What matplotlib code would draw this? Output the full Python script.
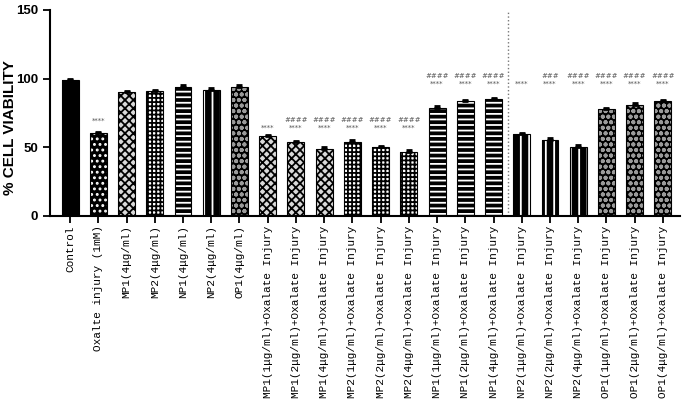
import matplotlib
matplotlib.use("Agg")
import matplotlib.pyplot as plt
import numpy as np

# Cell viability data (% of control)
labels = [
    "Control", "Oxalte injury (1mM)",
    "MP1(4μg/ml)", "MP2(4μg/ml)", "NP1(4μg/ml)", "NP2(4μg/ml)", "OP1(4μg/ml)",
    "MP1(1μg/ml)+Oxalate Injury", "MP1(2μg/ml)+Oxalate Injury", "MP1(4μg/ml)+Oxalate Injury",
    "MP2(1μg/ml)+Oxalate Injury", "MP2(2μg/ml)+Oxalate Injury", "MP2(4μg/ml)+Oxalate Injury",
    "NP1(1μg/ml)+Oxalate Injury", "NP1(2μg/ml)+Oxalate Injury", "NP1(4μg/ml)+Oxalate Injury",
    "NP2(1μg/ml)+Oxalate Injury", "NP2(2μg/ml)+Oxalate Injury", "NP2(4μg/ml)+Oxalate Injury",
    "OP1(1μg/ml)+Oxalate Injury", "OP1(2μg/ml)+Oxalate Injury", "OP1(4μg/ml)+Oxalate Injury",
]
viability = [99, 60, 90, 91, 94, 92, 94,
             58, 53.5, 49, 54, 50, 46.5,
             78.5, 83.5, 85, 59.5, 55.5, 50.5,
             77.5, 81, 83.5]
sem = [0.5, 1.2, 1.0, 1.0, 1.2, 1.0, 1.2,
       1.2, 1.2, 1.2, 1.2, 1.2, 1.2,
       1.2, 1.2, 1.2, 1.2, 1.2, 1.2,
       1.2, 1.2, 1.2]
# group of each bar -> pattern
groups = ["ctrl", "oxa", "MP1", "MP2", "NP1", "NP2", "OP1",
          "MP1", "MP1", "MP1", "MP2", "MP2", "MP2",
          "NP1", "NP1", "NP1", "NP2", "NP2", "NP2",
          "OP1", "OP1", "OP1"]
stars = ["", "****", "", "", "", "", "",
         "****", "****", "****", "****", "****", "****",
         "****", "****", "****", "****", "****", "****",
         "****", "****", "****"]
hashes = ["", "", "", "", "", "", "",
          "", "####", "####", "####", "####", "####",
          "####", "####", "####", "", "###", "####",
          "####", "####", "####"]

# face colour, hatch, hatch colour
styles = {
    "ctrl": ("black", None, "black"),
    "oxa": ("black", "...", "white"),
    "MP1": ("#d9d9d9", "xxxx", "black"),
    "MP2": ("white", "++++", "black"),
    "NP1": ("black", "---", "white"),
    "NP2": ("black", "||", "white"),
    "OP1": ("black", "ooo", "#9a9a9a"),
}

plt.rcParams["hatch.linewidth"] = 1.3

fig = plt.figure(figsize=(6.86, 4.12), dpi=100)
ax = fig.add_axes([0.073, 0.476, 0.918, 0.5])

x = np.arange(len(labels))
width = 0.6
for xi, v, g in zip(x, viability, groups):
    fc, hatch, hc = styles[g]
    ax.bar(xi, v, width, color=fc, edgecolor=hc, hatch=hatch, linewidth=0, zorder=2)
    ax.bar(xi, v, width, fill=False, edgecolor="black", linewidth=0.8, zorder=3)

ax.errorbar(x, viability, yerr=[np.zeros(len(sem)), sem], fmt="none",
            ecolor="black", elinewidth=1.2, capsize=2.5, capthick=2, zorder=4)

# significance marks
for xi, v, s, h in zip(x, viability, stars, hashes):
    if not s:
        continue
    if xi == 1:
        base = 69
    elif xi <= 12:
        base = 64.5
    else:
        base = 96.5
    ax.text(xi, base, s, ha="center", va="center", fontsize=5, color="#555555")
    if h:
        ax.text(xi, base + 5.5, h, ha="center", va="center", fontsize=5,
                color="#555555", style="italic")

# dotted separator
ax.axvline(15.5, color="#777777", linestyle=":", linewidth=1, zorder=1)

ax.set_xlim(-0.71, 21.6)
ax.set_ylim(0, 150)
ax.set_yticks([0, 50, 100, 150])
ax.set_yticklabels(["0", "50", "100", "150"], fontsize=9.5, fontweight="bold",
                   family="Liberation Sans")
ax.set_xticks(x)
ax.set_xticklabels(labels, rotation=90, fontsize=8, family="Liberation Mono")
ax.tick_params(axis="x", direction="inout", length=10, width=1.3, pad=2)
ax.tick_params(axis="y", direction="out", length=5, width=1.3)

ax.set_ylabel("% CELL VIABILITY", fontsize=11, fontweight="bold",
              family="Liberation Sans")
ax.yaxis.set_label_coords(-0.052, 0.43)

for side in ["top", "right"]:
    ax.spines[side].set_visible(False)
for side in ["left", "bottom"]:
    ax.spines[side].set_linewidth(1.5)

fig.savefig("out.png", dpi=100)
